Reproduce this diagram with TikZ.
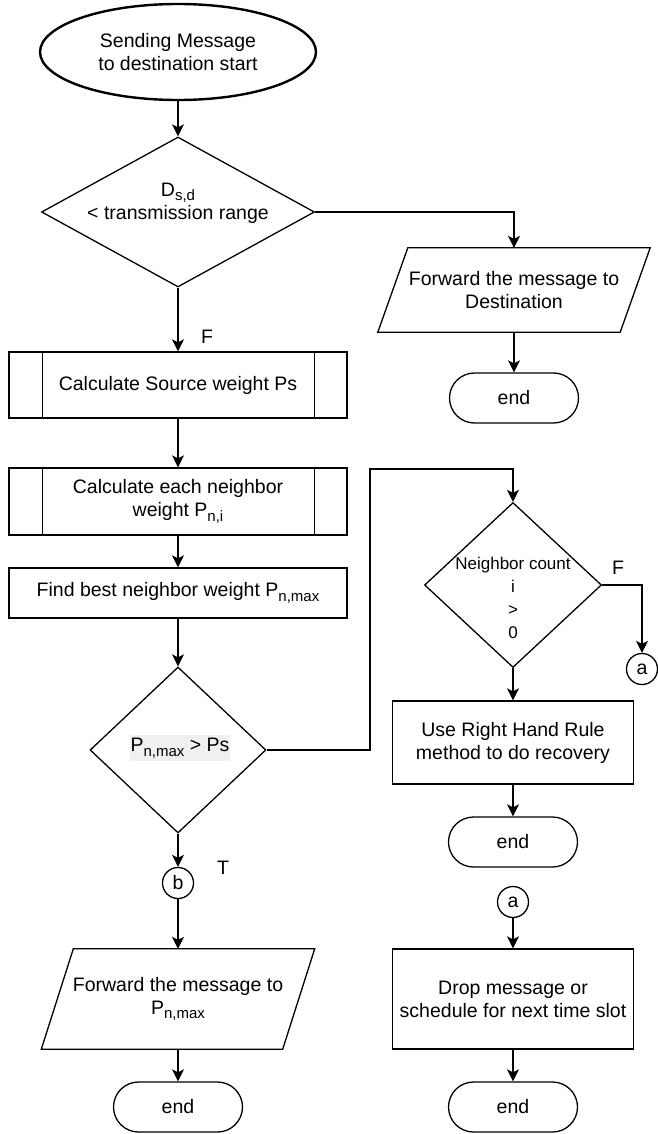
\documentclass[tikz,border=0pt]{standalone}
\usepackage{fontspec}
\setmainfont{Liberation Sans}
\usetikzlibrary{shapes.geometric,arrows.meta,calc}
% lowered, smaller index text (P_{n,max}, D_{s,d})
\newcommand\lowsub[1]{\raisebox{-0.45ex}{\fontsize{15}{15}\selectfont #1}}

\begin{document}
\begin{tikzpicture}[x=1pt,y=-1pt,
  every node/.style={font=\fontsize{19.5}{23}\selectfont, text=black},
  line/.style={line width=1.3pt},
  arr/.style={line, -{Stealth[length=12pt,width=12pt,inset=3pt]}},
  startnode/.style={draw, ellipse, line width=2.4pt, minimum width=276pt, minimum height=96pt, align=center, inner sep=0pt},
  terminal/.style={draw, line, rectangle, rounded corners=25pt, minimum width=129pt, minimum height=50pt, inner sep=0pt},
  procbox/.style={draw, line, rectangle, minimum width=241pt, align=center, inner sep=0pt},
  subbox/.style={draw, line, rectangle, minimum width=338pt, minimum height=66pt, align=center, inner sep=0pt},
  decision/.style={draw, line, diamond, inner sep=0pt},
  iobox/.style={rectangle, inner sep=0pt, align=center},
  conn/.style={draw, line, circle, minimum size=31pt, inner sep=0pt},
  lbl/.style={inner sep=0pt}
]
\useasboundingbox (0,0) rectangle (657,1134);

% ---- left column ----
\node[startnode] (start) at (178,52) {Sending Message\\to destination start};

\node[decision, minimum width=273pt, minimum height=150pt] (d1) at (178,212) {};
\node[lbl, align=center] (d1txt) at (178,203) {D\lowsub{s,d}\\{}< transmission range};

\node[subbox] (sub1) at (178,385) {Calculate Source weight Ps};
\node[subbox, minimum height=67pt] (sub2) at (178,501.5) {Calculate each neighbor\\weight P\lowsub{n,i}};
\foreach \s in {sub1,sub2}{
  \draw[line] ($(\s.north west)+(34,0)$) -- ($(\s.south west)+(34,0)$);
  \draw[line] ($(\s.north east)-(33,0)$) -- ($(\s.south east)-(33,0)$);
}
\node[draw, line, rectangle, minimum width=338pt, minimum height=50pt, inner sep=0pt] (best) at (178,593) {Find best neighbor weight P\lowsub{n,max}};

\node[decision, minimum width=176pt, minimum height=166pt] (d2) at (178,750) {};
\node[lbl, fill=black!6, inner xsep=1pt, inner ysep=3pt] (d2txt) at (180,748) {P\lowsub{n,max} > Ps};

\node[conn] (cb) at (178,883) {b};

\node[iobox, minimum width=241pt, minimum height=100pt] (fwdB) at (178,999) {Forward the message to\\P\lowsub{n,max}};
\draw[line] ($(fwdB.north west)+(16,0)$) -- ($(fwdB.north east)+(16,0)$)
  -- ($(fwdB.south east)-(16,0)$) -- ($(fwdB.south west)-(16,0)$) -- cycle;

\node[terminal] (endB) at (178,1107) {end};

% ---- right column ----
\node[iobox, minimum width=242pt, minimum height=84pt] (fwdA) at (514,290) {Forward the message to\\Destination};
\draw[line] ($(fwdA.north west)+(15,0)$) -- ($(fwdA.north east)+(15,0)$)
  -- ($(fwdA.south east)-(15,0)$) -- ($(fwdA.south west)-(15,0)$) -- cycle;
\node[terminal] (endA) at (514,398) {end};

\node[decision, minimum width=177pt, minimum height=165pt] (d3) at (513,585) {};
\node[lbl, align=center, font=\fontsize{17}{23}\selectfont] (d3txt) at (513,598) {Neighbor count\\i\\{}>\\0};

\node[conn] (ca1) at (642,669) {a};

\node[procbox, minimum height=83pt] (rhr) at (513,742.5) {Use Right Hand Rule\\method to do recovery};
\node[terminal] (endC) at (513,842) {end};

\node[conn] (ca2) at (513,902) {a};
\node[procbox, minimum height=100pt] (drop) at (513,999) {Drop message or\\schedule for next time slot};
\node[terminal] (endD) at (513,1107) {end};

% ---- connectors ----
\coordinate (loop) at (370,469);

\draw[arr] (start.south) -- (d1.north);
\draw[arr] (d1.east) -| (fwdA.north);
\draw[arr] (fwdA.south) -- (endA.north);
\draw[arr] (d1.south) -- (sub1.north);
\draw[arr] (sub1.south) -- (sub2.north);
\draw[arr] (sub2.south) -- (best.north);
\draw[arr] (best.south) -- (d2.north);
\draw[arr] (d2.south) -- (cb.north);
\draw[arr] (cb.south) -- (fwdB.north);
\draw[arr] (fwdB.south) -- (endB.north);
\draw[arr] (d2.east) -| (loop) -| (d3.north);
\draw[arr] (d3.east) -| (ca1.north);
\draw[arr] (d3.south) -- (rhr.north);
\draw[arr] (rhr.south) -- (endC.north);
\draw[arr] (ca2.south) -- (drop.north);
\draw[arr] (drop.south) -- (endD.north);

% ---- branch labels ----
\node[lbl] (lblF1) at (207,337) {F};
\node[lbl] (lblF2) at (618,568) {F};
\node[lbl] (lblT) at (223,868) {T};
\end{tikzpicture}
\end{document}
